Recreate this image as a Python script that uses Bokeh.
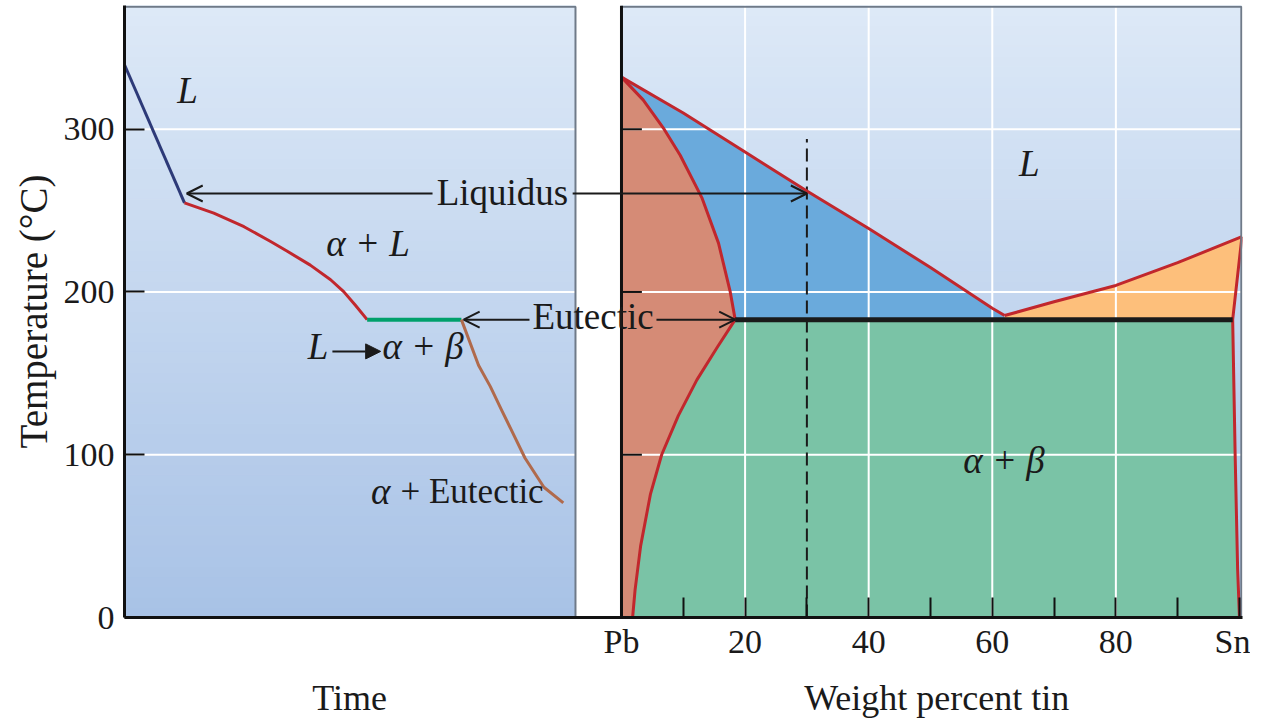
from bokeh.plotting import figure
from bokeh.models import Range1d, FixedTicker, Label, Arrow, OpenHead, NormalHead, LinearAxis
from bokeh.embed import file_html
from bokeh.resources import INLINE

# ---------------- data ----------------
temp_ticks = [0, 100, 200, 300]
temp_grid = [100, 200, 300]
wt_major_ticks = [0, 20, 40, 60, 80, 100]
wt_minor_ticks = [10, 30, 50, 70, 90]
wt_tick_labels = {0: "Pb", 100: "Sn"}
wt_grid = [20, 40, 60, 80]
axis_titles = ["Time", "Weight percent tin"]

# cooling curve (time in arbitrary units, temperature in °C)
cool_liquid_time = [0.0, 1.33]
cool_liquid_temp = [339.6, 254.7]
cool_alphaL_time = [1.33, 1.98, 2.65, 3.24, 3.61, 4.12, 4.57, 4.86, 5.12, 5.38]
cool_alphaL_temp = [254.7, 248.4, 240.1, 231.0, 225.0, 216.5, 207.5, 200.2, 191.8, 183]
cool_eutectic_time = [5.38, 7.47]
cool_eutectic_temp = [183, 183]
cool_solid_time = [7.47, 7.85, 8.11, 8.37, 8.88, 9.30, 9.73]
cool_solid_temp = [183, 155, 142, 127, 98, 80, 70.4]

# Pb-Sn phase diagram (wt% Sn, °C)
liquidus_pb_wt = [0, 10, 20, 30, 40, 50, 60, 62]
liquidus_pb_temp = [332, 310, 286, 262, 239, 215, 190, 185.5]
liquidus_sn_wt = [62, 70, 80, 90, 100.4]
liquidus_sn_temp = [185.5, 194, 204, 218, 234]
solidus_alpha_wt = [0, 3.5, 6.9, 9.5, 13.0, 15.7, 17.6, 18.4]
solidus_alpha_temp = [332, 318, 300, 284, 258, 230, 200, 183]
solvus_alpha_wt = [18.4, 15.5, 12.2, 9.2, 6.5, 4.7, 3.1, 2.2, 1.8]
solvus_alpha_temp = [183, 166, 146, 124, 100, 76, 44, 17, 0]
beta_wt = [100.4, 98.9, 99.3, 99.7, 100.0]
beta_temp = [234, 183, 100, 30, 0]
eutectic_temp = 183
eutectic_wt = [18.4, 98.9]
alloy_wt = 30
alloy_top_temp = 294

# ---------------- styles / layout ----------------
FONT = "Liberation Serif"
INK = "#1a1a1a"
RED = "#c1272d"
FRAME_GRAY = "#6f7a88"
TIME_PANEL = (0, 10)
WT_PANEL = (0, 100.3)
Y_TOP = 376

p = figure(width=1250, height=720, output_backend="svg", toolbar_location=None,
           x_range=Range1d(-80.42, 100.49), y_range=Range1d(0, Y_TOP),
           min_border_left=124, min_border_right=8, min_border_top=5, min_border_bottom=103,
           background_fill_color="white", border_fill_color="white", outline_line_color=None)
p.extra_x_ranges = {"time": Range1d(0, 24.79)}
p.xgrid.visible = False
p.ygrid.visible = False

# gradient backgrounds
N = 60
top_c = (221, 233, 247)
bot_c = (168, 194, 230)
edges = [Y_TOP * i / N for i in range(N + 1)]
cols = []
for i in range(N):
    f = (edges[i] + edges[i + 1]) / 2 / Y_TOP
    c = tuple(int(round(bot_c[k] + (top_c[k] - bot_c[k]) * f)) for k in range(3))
    cols.append("#%02x%02x%02x" % c)
p.quad(left=TIME_PANEL[0], right=TIME_PANEL[1], bottom=edges[:-1], top=edges[1:],
       fill_color=cols, line_color=cols, line_width=1, x_range_name="time")
p.quad(left=WT_PANEL[0], right=WT_PANEL[1], bottom=edges[:-1], top=edges[1:],
       fill_color=cols, line_color=cols, line_width=1)

# phase regions
alpha_x = [0] + solvus_alpha_wt[::-1] + solidus_alpha_wt[::-1][1:]
alpha_y = [0] + solvus_alpha_temp[::-1] + solidus_alpha_temp[::-1][1:]
aL_x = liquidus_pb_wt + [liquidus_pb_wt[-1]] + solidus_alpha_wt[::-1]
aL_y = liquidus_pb_temp + [eutectic_temp] + solidus_alpha_temp[::-1]
bL_x = liquidus_sn_wt + [beta_wt[1], liquidus_sn_wt[0]]
bL_y = liquidus_sn_temp + [beta_temp[1], eutectic_temp]
ab_x = solvus_alpha_wt + beta_wt[::-1][:-1]
ab_y = solvus_alpha_temp + beta_temp[::-1][:-1]

p.patch(alpha_x, alpha_y, fill_color="#d58b76", line_color=None)
p.patch(aL_x, aL_y, fill_color="#6aaadc", line_color=None)
p.patch(bL_x, bL_y, fill_color="#fdbf7b", line_color=None)
p.patch(ab_x, ab_y, fill_color="#7ac3a6", line_color=None)

# white grid lines
for t in temp_grid:
    p.line([TIME_PANEL[0], TIME_PANEL[1]], [t, t], line_color="white", line_width=2, x_range_name="time")
    p.line([WT_PANEL[0], WT_PANEL[1]], [t, t], line_color="white", line_width=2)
for w in wt_grid:
    p.line([w, w], [0, Y_TOP], line_color="white", line_width=2)

# alloy line and phase boundaries
p.line([alloy_wt, alloy_wt], [0, alloy_top_temp], line_color=INK, line_width=2, line_dash="13 6")
for xs, ys in [(liquidus_pb_wt, liquidus_pb_temp), (liquidus_sn_wt, liquidus_sn_temp),
               (solidus_alpha_wt, solidus_alpha_temp), (solvus_alpha_wt, solvus_alpha_temp),
               (beta_wt, beta_temp)]:
    p.line(xs, ys, line_color=RED, line_width=3, line_join="round")
p.line(eutectic_wt, [eutectic_temp, eutectic_temp], line_color=INK, line_width=5)

# cooling curve
p.line(cool_liquid_time, cool_liquid_temp, line_color="#2d3a78", line_width=3, x_range_name="time")
p.line(cool_alphaL_time, cool_alphaL_temp, line_color=RED, line_width=3, line_join="round",
       x_range_name="time")
p.line(cool_eutectic_time, cool_eutectic_temp, line_color="#00a06b", line_width=4, x_range_name="time")
p.line(cool_solid_time, cool_solid_temp, line_color="#b06a4c", line_width=3, line_join="round",
       x_range_name="time")

# panel frames
p.line([TIME_PANEL[0], TIME_PANEL[1], TIME_PANEL[1]], [Y_TOP - 0.7, Y_TOP - 0.7, 0],
       line_color=FRAME_GRAY, line_width=2, x_range_name="time")
p.line([WT_PANEL[0], WT_PANEL[1], WT_PANEL[1]], [Y_TOP - 0.7, Y_TOP - 0.7, 0],
       line_color=FRAME_GRAY, line_width=2)
p.line([0, 0], [0, Y_TOP], line_color="#111111", line_width=3)
for t in temp_grid:
    p.line([0, 3.3], [t, t], line_color="#111111", line_width=2)

# axes
xa = p.xaxis[0]
xa.ticker = FixedTicker(ticks=wt_major_ticks, minor_ticks=wt_minor_ticks)
xa.major_label_overrides = wt_tick_labels
xa.major_tick_in = 20
xa.major_tick_out = 0
xa.minor_tick_in = 20
xa.minor_tick_out = 0
xa.major_tick_line_width = 2
xa.minor_tick_line_width = 2
xa.major_tick_line_color = "#111111"
xa.minor_tick_line_color = "#111111"
xa.axis_line_width = 3
xa.axis_line_color = "#111111"
xa.major_label_text_font = FONT
xa.major_label_text_font_size = "34px"
xa.major_label_text_color = INK
xa.major_label_standoff = 5

# second (label-only) axis carrying the two axis titles under their panels
title_axis = LinearAxis(ticker=FixedTicker(ticks=[-44, 51], minor_ticks=[]),
                        major_label_overrides={-44: axis_titles[0], 51: axis_titles[1]},
                        axis_line_color=None, major_tick_line_color=None,
                        minor_tick_line_color=None,
                        major_label_text_font=FONT, major_label_text_font_size="36px",
                        major_label_text_color=INK, major_label_standoff=9)
p.add_layout(title_axis, "below")

ya = p.yaxis[0]
ya.ticker = FixedTicker(ticks=temp_ticks, minor_ticks=[])
ya.major_tick_in = 20
ya.major_tick_out = 0
ya.minor_tick_in = 0
ya.minor_tick_out = 0
ya.major_tick_line_width = 2
ya.major_tick_line_color = "#111111"
ya.axis_line_width = 3
ya.axis_line_color = "#111111"
ya.major_label_text_font = FONT
ya.major_label_text_font_size = "34px"
ya.major_label_text_color = INK
ya.major_label_standoff = 10
ya.axis_label = "Temperature (°C)"
ya.axis_label_text_font = FONT
ya.axis_label_text_font_size = "39px"
ya.axis_label_text_font_style = "normal"
ya.axis_label_text_color = INK
ya.axis_label_standoff = 6


def lab(x, y, text, rng="default", style="normal", align="center", size="37px"):
    kw = dict(x=x, y=y, text=text, text_font=FONT, text_font_size=size,
              text_font_style=style, text_align=align, text_baseline="alphabetic",
              text_color=INK)
    if rng != "default":
        kw["x_range_name"] = rng
    p.add_layout(Label(**kw))


def arrow(x0, y0, x1, y1, rng="default", head="open"):
    if head == "open":
        h = OpenHead(size=16, line_width=2, line_color=INK)
    else:
        h = NormalHead(size=15, line_width=1, line_color=INK, fill_color=INK)
    kw = dict(x_start=x0, y_start=y0, x_end=x1, y_end=y1, end=h,
              line_width=2, line_color=INK)
    if rng != "default":
        kw["x_range_name"] = rng
    p.add_layout(Arrow(**kw))


# left panel labels
lab(1.40, 323.9, "L", "time", "italic")
lab(5.40, 229.9, "α + L", "time", "italic")
lab(8.38, 261.2, "Liquidus", "time")
arrow(6.83, 260.5, cool_liquid_time[1] + 0.05, 260.5, "time")
arrow(-7.9, 260.5, alloy_wt, 260.5)
lab(4.29, 166.6, "L", "time", "italic")
arrow(4.61, 163.5, 5.68, 163.5, "time", head="filled")
lab(6.62, 166.6, "α + β", "time", "italic")
lab(5.68, 77.7, "α", "time", "italic")
lab(6.12, 77.7, "+ Eutectic", "time", align="left", size="35px")

# Eutectic label and arrows
lab(-4.6, 185.0, "Eutectic")
arrow(8.98, eutectic_temp, cool_eutectic_time[1] + 0.05, eutectic_temp, "time")
arrow(5.66, eutectic_temp, eutectic_wt[0], eutectic_temp)

# right panel labels
lab(66.0, 279.1, "L", style="italic")
lab(61.9, 96.7, "α + β", style="italic")

open("out.html", "w").write(file_html(p, INLINE))
